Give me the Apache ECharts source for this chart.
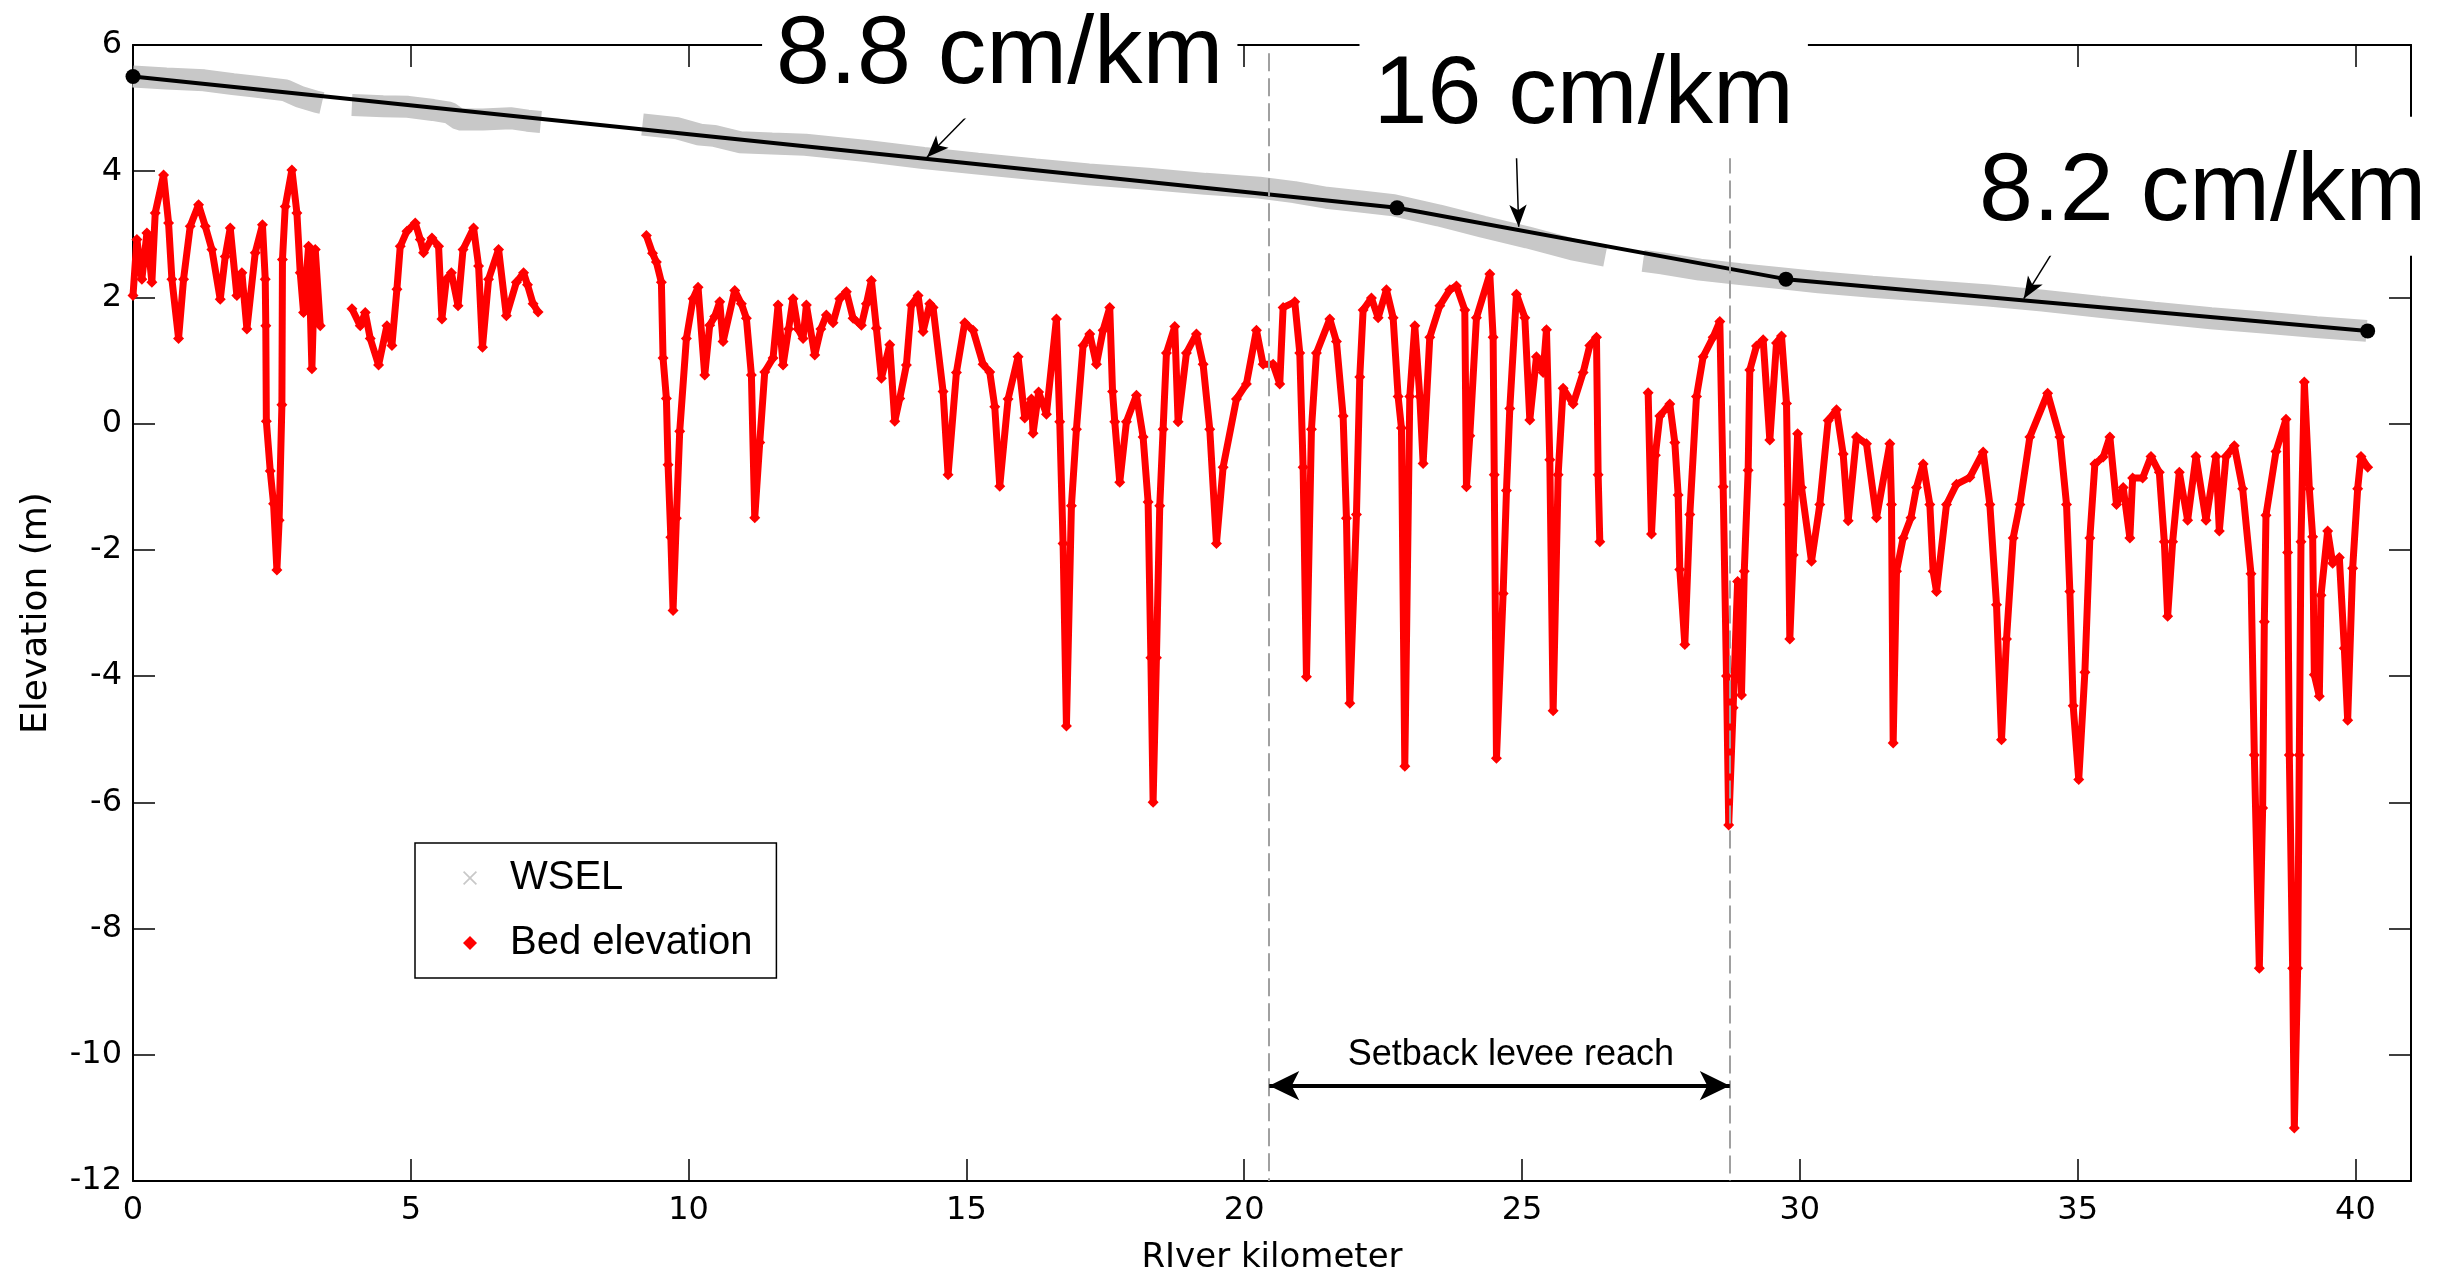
<!DOCTYPE html>
<html>
<head>
<meta charset="utf-8">
<script src="https://cdn.jsdelivr.net/npm/echarts@6/dist/echarts.min.js"></script>
<style>
html,body{margin:0;padding:0;background:#fff;}
#c{width:2455px;height:1280px;}
</style>
</head>
<body>
<div id="c"></div>
<script>
// ---------- tick labels ----------
const xTickLabels = [0, 5, 10, 15, 20, 25, 30, 35, 40];
const yTickLabels = [-12, -10, -8, -6, -4, -2, 0, 2, 4, 6];

// ---------- Bed elevation (river km, m) ----------
const bedSegA = [[0.0,2.03],[0.07,2.92],[0.16,2.29],[0.25,3.02],[0.34,2.24],[0.4,3.34],[0.55,3.94],[0.64,3.18],[0.7,2.29],[0.82,1.35],[0.91,2.29],[1.03,3.13],[1.18,3.47],[1.3,3.13],[1.42,2.76],[1.57,1.97],[1.66,2.65],[1.75,3.10],[1.87,2.03],[1.96,2.39],[2.05,1.50],[2.2,2.71],[2.33,3.15],[2.38,2.29],[2.39,1.55],[2.40,0.04],[2.47,-0.75],[2.53,-1.27],[2.59,-2.32],[2.63,-1.53],[2.68,0.3],[2.69,2.6],[2.74,3.44],[2.86,4.02],[2.95,3.34],[3.01,2.39],[3.07,1.76],[3.16,2.81],[3.22,0.87],[3.28,2.76],[3.37,1.55]];
const bedSegB = [[3.94,1.82],[4.09,1.55],[4.18,1.76],[4.27,1.35],[4.42,0.93],[4.57,1.55],[4.66,1.24],[4.75,2.13],[4.81,2.81],[4.93,3.05],[5.08,3.18],[5.17,2.92],[5.23,2.71],[5.38,2.94],[5.5,2.81],[5.56,1.66],[5.64,2.29],[5.73,2.39],[5.85,1.87],[5.94,2.76],[6.13,3.10],[6.22,2.50],[6.29,1.21],[6.4,2.29],[6.58,2.76],[6.72,1.71],[6.9,2.24],[7.03,2.39],[7.1,2.2],[7.2,1.9],[7.29,1.77]];
const bedSegC = [[9.24,2.98],[9.35,2.7],[9.42,2.56],[9.51,2.24],[9.54,1.04],[9.6,0.4],[9.63,-0.65],[9.68,-1.8],[9.72,-2.96],[9.78,-1.5],[9.84,-0.12],[9.96,1.35],[10.08,1.98],[10.17,2.16],[10.29,0.77],[10.38,1.56],[10.47,1.7],[10.56,1.93],[10.62,1.3],[10.83,2.11],[10.95,1.9],[11.04,1.67],[11.13,0.77],[11.19,-1.49],[11.28,-0.3],[11.37,0.82],[11.52,1.04],[11.61,1.88],[11.70,0.93],[11.8,1.5],[11.88,1.98],[11.97,1.5],[12.06,1.35],[12.12,1.88],[12.27,1.09],[12.38,1.5],[12.48,1.72],[12.6,1.6],[12.72,1.98],[12.84,2.09],[12.96,1.67],[13.11,1.56],[13.2,1.9],[13.29,2.27],[13.38,1.51],[13.47,0.72],[13.62,1.25],[13.71,0.04],[13.80,0.4],[13.92,0.93],[14.01,1.88],[14.13,2.03],[14.22,1.46],[14.34,1.90],[14.40,1.84],[14.58,0.51],[14.67,-0.81],[14.82,0.81],[14.97,1.6],[15.12,1.48],[15.30,0.94],[15.42,0.82],[15.51,0.27],[15.60,-0.99],[15.75,0.39],[15.93,1.06],[16.05,0.09],[16.17,0.39],[16.2,-0.15],[16.3,0.5],[16.44,0.15],[16.62,1.66],[16.68,0.03],[16.74,-1.9],[16.80,-4.79],[16.89,-1.3],[16.98,-0.09],[17.1,1.24],[17.22,1.42],[17.34,0.94],[17.46,1.48],[17.58,1.84],[17.63,0.51],[17.67,0.03],[17.76,-0.93],[17.88,0.03],[18.06,0.45],[18.18,-0.21],[18.27,-1.24],[18.32,-3.71],[18.36,-6.0],[18.42,-3.71],[18.48,-1.3],[18.54,-0.09],[18.6,1.12],[18.75,1.54],[18.81,0.03],[18.96,1.12],[19.14,1.42],[19.26,0.94],[19.38,-0.09],[19.5,-1.9],[19.62,-0.69],[19.86,0.39],[20.04,0.63],[20.22,1.48],[20.34,0.94],[20.52,0.94],[20.64,0.63],[20.7,1.84],[20.91,1.93],[21.0,1.12],[21.06,-0.69],[21.12,-4.01],[21.21,-0.09],[21.3,1.12],[21.54,1.66],[21.66,1.30],[21.78,0.12],[21.84,-1.5],[21.9,-4.43],[22.02,-1.44],[22.08,0.74],[22.14,1.8],[22.29,1.99],[22.41,1.68],[22.56,2.12],[22.68,1.68],[22.77,0.43],[22.83,-0.07],[22.89,-5.43],[22.98,0.43],[23.07,1.55],[23.16,0.43],[23.22,-0.63],[23.34,1.37],[23.52,1.87],[23.7,2.12],[23.82,2.18],[23.97,1.8],[24.0,-1.0],[24.06,-0.19],[24.18,1.68],[24.42,2.37],[24.48,1.37],[24.5,-0.81],[24.54,-5.3],[24.66,-2.69],[24.72,-1.06],[24.78,0.24],[24.9,2.05],[25.05,1.68],[25.14,0.06],[25.26,1.06],[25.38,0.81],[25.44,1.49],[25.5,-0.57],[25.56,-4.55],[25.65,-0.81],[25.74,0.56],[25.92,0.31],[26.1,0.81],[26.22,1.24],[26.34,1.37],[26.37,-0.81],[26.4,-1.87]];
const bedSegD = [[27.27,0.49],[27.33,-1.75],[27.4,-0.5],[27.48,0.12],[27.66,0.31],[27.75,-0.3],[27.81,-1.13],[27.84,-2.31],[27.93,-3.5],[28.02,-1.44],[28.14,0.43],[28.26,1.06],[28.44,1.37],[28.56,1.62],[28.62,-1.0],[28.68,-4.0],[28.72,-6.36],[28.8,-4.5],[28.88,-2.5],[28.95,-4.3],[29.0,-2.34],[29.07,-0.74],[29.1,0.85],[29.22,1.23],[29.34,1.33],[29.46,-0.26],[29.58,1.28],[29.67,1.39],[29.76,0.32],[29.79,-1.28],[29.82,-3.41],[29.88,-2.08],[29.96,-0.16],[30.03,-1.01],[30.21,-2.18],[30.36,-1.28],[30.51,0.05],[30.66,0.22],[30.78,-0.48],[30.87,-1.54],[31.02,-0.21],[31.2,-0.32],[31.38,-1.49],[31.62,-0.32],[31.65,-1.28],[31.68,-5.06],[31.74,-2.34],[31.86,-1.81],[32.0,-1.49],[32.1,-1.01],[32.22,-0.64],[32.34,-1.28],[32.4,-2.34],[32.46,-2.66],[32.64,-1.28],[32.82,-0.96],[33.06,-0.85],[33.3,-0.45],[33.42,-1.28],[33.54,-2.87],[33.63,-5.01],[33.72,-3.41],[33.84,-1.81],[33.96,-1.28],[34.14,-0.21],[34.46,0.48],[34.68,-0.21],[34.8,-1.28],[34.86,-2.66],[34.92,-4.47],[35.02,-5.64],[35.13,-3.94],[35.22,-1.81],[35.31,-0.64],[35.46,-0.53],[35.58,-0.21],[35.7,-1.28],[35.82,-1.01],[35.94,-1.81],[35.99,-0.86],[36.17,-0.86],[36.32,-0.52],[36.47,-0.77],[36.56,-1.87],[36.62,-3.05],[36.71,-1.87],[36.83,-0.77],[36.98,-1.53],[37.13,-0.52],[37.31,-1.53],[37.49,-0.52],[37.55,-1.70],[37.67,-0.52],[37.82,-0.35],[37.97,-1.03],[38.12,-2.38],[38.18,-5.25],[38.27,-8.63],[38.33,-6.09],[38.36,-3.14],[38.39,-1.45],[38.57,-0.44],[38.75,0.07],[38.78,-2.04],[38.81,-5.25],[38.87,-8.63],[38.9,-11.16],[38.96,-8.63],[38.99,-5.25],[39.02,-1.87],[39.08,0.66],[39.17,-1.03],[39.23,-1.79],[39.26,-3.98],[39.35,-4.32],[39.38,-2.72],[39.5,-1.70],[39.59,-2.21],[39.71,-2.12],[39.8,-3.56],[39.86,-4.70],[39.95,-2.29],[40.04,-1.03],[40.1,-0.52],[40.22,-0.69]];

// ---------- WSEL (river km, m) ----------
const wselSegA = [[0,5.5],[0.6,5.47],[1.28,5.44],[1.8,5.38],[2.2,5.34],[2.75,5.28],[3.0,5.18],[3.3,5.1],[3.4,5.08]];
const wselSegB = [[3.94,5.05],[4.5,5.03],[4.95,5.02],[5.4,4.97],[5.69,4.93],[5.87,4.82],[6.3,4.82],[6.79,4.84],[7.1,4.80],[7.34,4.78]];
const wselSegC = [[9.17,4.74],[9.8,4.68],[10.2,4.58],[10.46,4.56],[10.92,4.46],[11.5,4.44],[12.1,4.42],[13.2,4.32],[14.23,4.21],[15.2,4.12],[16.24,4.03],[17.2,3.95],[18.26,3.88],[19.3,3.80],[20.27,3.74],[20.9,3.67],[21.48,3.58],[22.1,3.52],[22.69,3.46],[23.5,3.30],[24.3,3.12],[25.1,2.95],[25.91,2.76],[26.5,2.66]];
const wselSegD = [[27.18,2.58],[27.52,2.54],[28.2,2.44],[28.93,2.37],[29.6,2.31],[30.34,2.24],[31.3,2.17],[32.35,2.10],[33.4,2.03],[34.37,1.95],[35.4,1.85],[36.38,1.76],[37.4,1.67],[38.4,1.60],[39.3,1.53],[40.2,1.47]];

// ---------- fitted water-surface slope segments ----------
const fitKm   = [0, 22.75, 29.75, 40.22];
const fitElev = [5.5, 3.42, 2.29, 1.47];

// ---------- annotations ----------
const slopeLabels = ['8.8 cm/km', '16 cm/km', '8.2 cm/km'];
const slopeLabelAt = [[15.60, 5.905], [26.11, 5.275], [37.25, 3.73]];
const slopeArrowFrom = [[14.99, 4.85], [24.90, 4.25], [34.53, 2.69]];
const slopeArrowTo   = [[14.29, 4.22], [24.94, 3.12], [34.03, 1.98]];
const reachKm = [20.45, 28.74];
const reachTop = [5.87, 4.25];
const reachArrowElev = -10.49;
const reachLabel = 'Setback levee reach';
const reachLabelAt = [24.80, -9.975];

const gap = (x) => [[x, null]];
const bedData = [].concat(bedSegA, gap(3.6), bedSegB, gap(8.2), bedSegC, gap(26.8), bedSegD);
const wselData = [].concat(wselSegA, gap(3.6), wselSegB, gap(8.2), wselSegC, gap(26.8), wselSegD);
const fitData = fitKm.map((k, i) => [k, fitElev[i]]);

const axisFont = 'DejaVu Sans';
const annFont = '"Liberation Sans", Arial, sans-serif';

const markLines = [];
reachKm.forEach((k, i) => {
  markLines.push([
    { coord: [k, reachTop[i]], symbol: 'none', lineStyle: { color: '#a0a0a0', width: 2, type: [18, 7] } },
    { coord: [k, -12], symbol: 'none' }
  ]);
});
slopeArrowFrom.forEach((p, i) => {
  markLines.push([
    { coord: p, symbol: 'none', lineStyle: { color: '#000', width: 1.5, type: 'solid' } },
    { coord: slopeArrowTo[i], symbol: 'arrow', symbolSize: [13, 22] }
  ]);
});
markLines.push([
  { coord: [reachKm[0], reachArrowElev], symbol: 'arrow', symbolSize: [22, 30], lineStyle: { color: '#000', width: 4, type: 'solid' } },
  { coord: [reachKm[1], reachArrowElev], symbol: 'arrow', symbolSize: [22, 30] }
]);

const axisCommon = {
  type: 'value',
  axisLine: { onZero: false, lineStyle: { color: '#000', width: 2 } },
  axisTick: { inside: true, length: 22, lineStyle: { color: '#000', width: 1.5 } },
  splitLine: { show: false }
};

const option = {
  backgroundColor: '#fff',
  animation: false,
  grid: { left: 133, right: 44, top: 45, bottom: 93, containLabel: false },
  xAxis: [
    Object.assign({}, axisCommon, {
      position: 'bottom', min: 0, max: 41, interval: 5,
      axisLabel: { margin: 14, fontSize: 32, fontFamily: axisFont, color: '#000', showMaxLabel: false,
        formatter: v => xTickLabels.indexOf(v) >= 0 ? String(v) : '' },
      name: 'RIver kilometer', nameLocation: 'middle', nameGap: 60,
      nameTextStyle: { fontSize: 34, fontFamily: axisFont, color: '#000' }
    }),
    Object.assign({}, axisCommon, {
      position: 'top', min: 0, max: 41, interval: 5, axisLabel: { show: false }
    })
  ],
  yAxis: [
    Object.assign({}, axisCommon, {
      position: 'left', min: -12, max: 6, interval: 2,
      axisLabel: { margin: 11, fontSize: 32, fontFamily: axisFont, color: '#000',
        formatter: v => yTickLabels.indexOf(v) >= 0 ? String(v) : '' },
      name: 'Elevation (m)', nameLocation: 'middle', nameGap: 78, nameRotate: 90,
      nameTextStyle: { fontSize: 36, fontFamily: axisFont, color: '#000' }
    }),
    Object.assign({}, axisCommon, {
      position: 'right', min: -12, max: 6, interval: 2, axisLabel: { show: false }
    })
  ],
  legend: {
    left: 415, top: 843, orient: 'vertical',
    itemWidth: 14, itemHeight: 14, itemGap: 25,
    padding: [15, 24, 15, 48],
    borderColor: '#000', borderWidth: 1.5, backgroundColor: '#fff',
    textStyle: { fontSize: 40, fontFamily: annFont, color: '#000', padding: [0, 0, 0, 28] },
    selectedMode: false,
    data: [
      { name: 'WSEL', icon: 'path://M0,0.85L0.85,0L5,4.15L9.15,0L10,0.85L5.85,5L10,9.15L9.15,10L5,5.85L0.85,10L0,9.15L4.15,5Z', itemStyle: { color: '#c8c8c8' } },
      { name: 'Bed elevation', icon: 'diamond', itemStyle: { color: '#ff0000' } }
    ]
  },
  series: [
    {
      name: 'WSEL', type: 'line', data: wselData, xAxisIndex: 0, yAxisIndex: 0,
      symbol: 'none', connectNulls: false, z: 1,
      itemStyle: { color: '#c8c8c8' },
      lineStyle: { color: '#c8c8c8', width: 22 }
    },
    {
      name: 'Bed elevation', type: 'line', data: bedData, xAxisIndex: 0, yAxisIndex: 0,
      symbol: 'diamond', symbolSize: 11, showSymbol: true, showAllSymbol: true, connectNulls: false, z: 2,
      itemStyle: { color: '#ff0000' },
      lineStyle: { color: '#ff0000', width: 7, join: 'round' }
    },
    {
      name: 'Slope fit', type: 'line', data: fitData, xAxisIndex: 0, yAxisIndex: 0,
      symbol: 'circle', symbolSize: 15, z: 4,
      itemStyle: { color: '#000' },
      lineStyle: { color: '#000', width: 4 },
      markLine: { silent: true, animation: false, symbol: ['none', 'none'], label: { show: false },
        data: markLines }
    }
  ]
};

const chart = echarts.init(document.getElementById('c'));
chart.setOption(option);

const toPx = p => chart.convertToPixel({ xAxisIndex: 0, yAxisIndex: 0 }, p);
const fs = 97, pt = 28, pb = 14, ph = 14;
const graphics = slopeLabels.map((t, i) => {
  const p = toPx(slopeLabelAt[i]);
  return {
    type: 'text', x: p[0], y: p[1] + 5 - pt - fs / 2, z: 100,
    style: { text: t, fontSize: fs, fontFamily: annFont, fill: '#000', align: 'center', verticalAlign: 'top',
      lineHeight: fs, backgroundColor: '#fff', padding: [pt, ph, pb, ph] }
  };
});
const rp = toPx(reachLabelAt);
graphics.push({
  type: 'text', x: rp[0], y: rp[1] + 2, z: 100,
  style: { text: reachLabel, fontSize: 36, fontFamily: annFont, fill: '#000', align: 'center', verticalAlign: 'middle', lineHeight: 36 }
});
chart.setOption({ graphic: graphics });
</script>
</body>
</html>
